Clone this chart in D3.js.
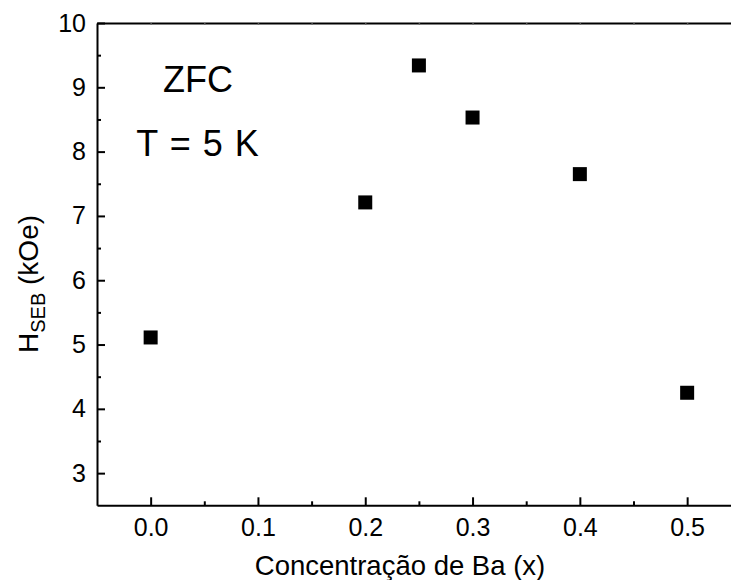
<!DOCTYPE html>
<html>
<head>
<meta charset="utf-8">
<script src="https://cdn.jsdelivr.net/npm/d3@7"></script>
<style>
  html, body { margin: 0; padding: 0; background: #fff; }
  svg { display: block; font-family: "Liberation Sans", Arial, sans-serif; }
</style>
</head>
<body>
<svg id="chart" width="731" height="580"></svg>
<script>
// Exchange-bias field vs. Ba concentration
const concentration = [0.0, 0.2, 0.25, 0.3, 0.4, 0.5];
const hSEB = [5.11, 7.21, 9.34, 8.53, 7.65, 4.25];
const xMajorTicks = [0.0, 0.1, 0.2, 0.3, 0.4, 0.5];
const xMinorTicks = [0.05, 0.15, 0.25, 0.35, 0.45];
const yMajorTicks = [3, 4, 5, 6, 7, 8, 9, 10];
const yMinorTicks = [3.5, 4.5, 5.5, 6.5, 7.5, 8.5, 9.5];
const annotations = ["ZFC", "T = 5 K"];

const svg = d3.select("#chart");
const plotLeft = 97, plotTop = 23, plotBottom = 505.3;

const x = d3.scaleLinear().domain([-0.05, 0.55]).range([plotLeft, plotLeft + 643.8]);
const y = d3.scaleLinear().domain([2.5, 10]).range([plotBottom, plotTop]);

const fmtX = d3.format(".1f");
const font = "Liberation Sans, Arial, sans-serif";

// bottom axis, ticks pointing inward
const gx = svg.append("g").attr("transform", `translate(0,${plotBottom})`)
  .call(d3.axisBottom(x).tickValues(xMajorTicks).tickSizeInner(-8).tickSizeOuter(0).tickFormat(fmtX));
gx.select(".domain").attr("stroke-width", 2);
gx.selectAll(".tick line").attr("stroke-width", 2);
gx.selectAll(".tick text").attr("y", 31).attr("dy", 0).attr("font-size", 25).attr("fill", "#000")
  .attr("font-family", font);
svg.append("g").attr("transform", `translate(0,${plotBottom})`)
  .call(d3.axisBottom(x).tickValues(xMinorTicks).tickSizeInner(-4).tickSizeOuter(0).tickFormat(""))
  .call(g => g.select(".domain").remove())
  .selectAll(".tick line").attr("stroke-width", 2);

// left axis, ticks pointing inward
const gy = svg.append("g").attr("transform", `translate(${plotLeft},0)`)
  .call(d3.axisLeft(y).tickValues(yMajorTicks).tickSizeInner(-8).tickSizeOuter(0).tickFormat(d3.format("d")));
gy.select(".domain").attr("stroke-width", 2);
gy.selectAll(".tick line").attr("stroke-width", 2);
gy.selectAll(".tick text").attr("x", -11).attr("font-size", 25).attr("fill", "#000")
  .attr("font-family", font);
svg.append("g").attr("transform", `translate(${plotLeft},0)`)
  .call(d3.axisLeft(y).tickValues(yMinorTicks).tickSizeInner(-4).tickSizeOuter(0).tickFormat(""))
  .call(g => g.select(".domain").remove())
  .selectAll(".tick line").attr("stroke-width", 2);

// top frame line
svg.append("g").attr("transform", `translate(0,${plotTop})`)
  .call(d3.axisTop(x).tickValues(xMajorTicks.concat(xMinorTicks)).tickSizeInner(-1.5).tickSizeOuter(0).tickFormat(""))
  .call(g => g.select(".domain").attr("stroke-width", 2))
  .selectAll(".tick line").attr("stroke-width", 1.5).attr("stroke", "#555");

// data markers
const size = 14;
svg.append("g").selectAll("rect")
  .data(concentration.map((c, i) => ({ c, v: hSEB[i] })))
  .join("rect")
  .attr("x", d => x(d.c) - size / 2)
  .attr("y", d => y(d.v) - size / 2)
  .attr("width", size).attr("height", size)
  .attr("fill", "#000");

// annotations
svg.append("text").attr("x", 198).attr("y", 92).attr("text-anchor", "middle")
  .attr("font-size", 36).text(annotations[0]);
svg.append("text").attr("x", 197.5).attr("y", 156).attr("text-anchor", "middle")
  .attr("font-size", 36).attr("word-spacing", 2).text(annotations[1]);

// axis titles
svg.append("text").attr("x", 400).attr("y", 575).attr("text-anchor", "middle")
  .attr("font-size", 27.5).text("Concentração de Ba (x)");

const yl = svg.append("text")
  .attr("transform", "translate(38,284) rotate(-90)")
  .attr("text-anchor", "middle").attr("font-size", 28);
yl.append("tspan").text("H");
yl.append("tspan").attr("font-size", 20).attr("dy", 7).text("SEB");
yl.append("tspan").attr("dy", -7).text(" (kOe)");
</script>
</body>
</html>
